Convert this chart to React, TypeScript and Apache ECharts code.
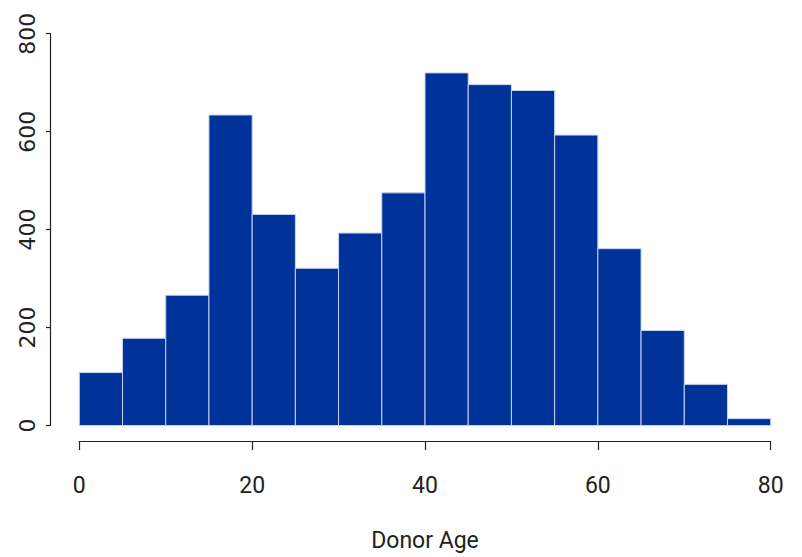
import React, { useEffect, useRef } from "react";
import * as echarts from "echarts";

const binStarts = [0, 5, 10, 15, 20, 25, 30, 35, 40, 45, 50, 55, 60, 65, 70, 75];
const binWidth = 5;
const counts = [108, 178, 266, 634, 431, 321, 393, 475, 720, 696, 684, 593, 361, 194, 84, 14];
const xTicks = [0, 20, 40, 60, 80];
const yTicks = [0, 200, 400, 600, 800];

export default function App() {
  const ref = useRef<HTMLDivElement>(null);
  useEffect(() => {
    if (!ref.current) return;
    const chart = echarts.init(ref.current, undefined, { renderer: "svg" });
    const data = binStarts.map((s, i) => [s, s + binWidth, counts[i]]);
    chart.setOption({
      animation: false,
      backgroundColor: "#ffffff",
      grid: { left: 79.3, right: 31.3, top: 33.7, bottom: 130.5 },
      xAxis: {
        type: "value",
        min: 0,
        max: 80,
        interval: 20,
        offset: 15.5,
        name: "Donor Age",
        nameLocation: "middle",
        nameGap: 88,
        nameTextStyle: { fontFamily: "Roboto, sans-serif", fontSize: 23, color: "#222" },
        axisLine: { show: true, onZero: false, lineStyle: { color: "#222", width: 1.2 } },
        axisTick: { show: true, length: 9, lineStyle: { color: "#222", width: 1.2 } },
        axisLabel: {
          margin: 33,
          fontFamily: "Roboto, sans-serif",
          fontSize: 23,
          color: "#222",
          formatter: (v: number) => (xTicks.includes(v) ? String(v) : ""),
        },
        splitLine: { show: false },
      },
      yAxis: {
        type: "value",
        min: 0,
        max: 800,
        interval: 200,
        offset: 29.3,
        axisLine: { show: true, onZero: false, lineStyle: { color: "#222", width: 1.2 } },
        axisTick: { show: true, length: 4, lineStyle: { color: "#222", width: 1.2 } },
        axisLabel: {
          rotate: 90,
          margin: 12,
          fontFamily: "'DejaVu Sans', sans-serif",
          fontSize: 22,
          color: "#222",
          formatter: (v: number) => (yTicks.includes(v) ? String(v) : ""),
        },
        splitLine: { show: false },
      },
      series: [
        {
          type: "custom",
          data,
          encode: { x: [0, 1], y: 2 },
          renderItem: (params: any, api: any) => {
            const x0 = api.value(0);
            const x1 = api.value(1);
            const y = api.value(2);
            const p0 = api.coord([x0, y]);
            const p1 = api.coord([x1, 0]);
            return {
              type: "rect",
              shape: { x: p0[0], y: p0[1], width: p1[0] - p0[0], height: p1[1] - p0[1] },
              style: { fill: "#003399", stroke: "#c9d1ee", lineWidth: 1 },
            };
          },
        },
      ],
    });
    return () => chart.dispose();
  }, []);
  return <div ref={ref} style={{ width: 802, height: 557, position: "absolute", left: 0, top: 0 }} />;
}
